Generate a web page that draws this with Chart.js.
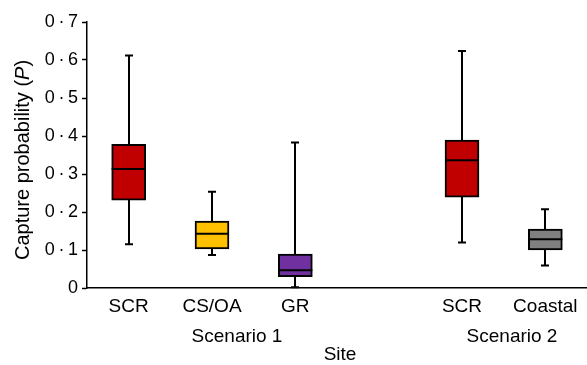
<!DOCTYPE html>
<html>
<head>
<meta charset="utf-8">
<script src="https://cdn.jsdelivr.net/npm/chart.js@4/dist/chart.umd.min.js"></script>
<style>
  html, body { margin: 0; padding: 0; background: #fff; }
  #wrap { width: 587px; height: 365px; }
</style>
</head>
<body>
<div id="wrap"><canvas id="boxChart" width="587" height="365"></canvas></div>
<script>
// site categories (slot 3 is the gap between the two scenarios)
const siteLabels = ['SCR', 'CS/OA', 'GR', '', 'SCR', 'Coastal'];
const whiskerLow = [0.115, 0.087, 0.002, null, 0.120, 0.059];
const boxLow = [0.231, 0.103, 0.030, null, 0.239, 0.100];
const medians = [0.313, 0.143, 0.047, null, 0.336, 0.128];
const boxHigh = [0.378, 0.176, 0.089, null, 0.389, 0.155];
const whiskerHigh = [0.612, 0.253, 0.383, null, 0.624, 0.207];
const boxColours = ['#c00000', '#ffc000', '#7030a0', '#ffffff', '#c00000', '#808080'];

const scenarioLabels = ['Scenario 1', 'Scenario 2'];
const scenarioCentres = [1.3, 4.6];

const FONT = '"Liberation Sans", Arial, sans-serif';

// whiskers go behind the boxes, medians on top
const boxPlotPlugin = {
    id: 'boxPlot',
    beforeDatasetsDraw(chart) {
        const ctx = chart.ctx;
        const x = chart.scales.x;
        const y = chart.scales.y;
        ctx.save();
        ctx.strokeStyle = '#000';
        ctx.lineWidth = 2;
        siteLabels.forEach((lab, i) => {
            if (whiskerLow[i] === null) return;
            const px = Math.round(x.getPixelForValue(i));
            const lo = y.getPixelForValue(whiskerLow[i]);
            const hi = y.getPixelForValue(whiskerHigh[i]);
            ctx.beginPath();
            ctx.moveTo(px, lo);
            ctx.lineTo(px, hi);
            ctx.moveTo(px - 4, hi);
            ctx.lineTo(px + 4, hi);
            ctx.moveTo(px - 4, lo);
            ctx.lineTo(px + 4, lo);
            ctx.stroke();
        });
        ctx.restore();
    },
    afterDatasetsDraw(chart) {
        const ctx = chart.ctx;
        const y = chart.scales.y;
        const meta = chart.getDatasetMeta(0);
        ctx.save();
        ctx.strokeStyle = '#000';
        ctx.lineWidth = 2;
        medians.forEach((m, i) => {
            if (m === null) return;
            const bar = meta.data[i];
            const half = bar.width / 2;
            const py = y.getPixelForValue(m);
            ctx.beginPath();
            ctx.moveTo(bar.x - half, py);
            ctx.lineTo(bar.x + half, py);
            ctx.stroke();
        });
        ctx.restore();
    },
    afterDraw(chart) {
        const ctx = chart.ctx;
        const x = chart.scales.x;
        const area = chart.chartArea;
        ctx.save();
        ctx.fillStyle = '#000';
        ctx.font = '19px ' + FONT;
        ctx.textAlign = 'center';
        ctx.textBaseline = 'middle';
        scenarioLabels.forEach((s, i) => {
            ctx.fillText(s, x.getPixelForValue(scenarioCentres[i]), 337);
        });
        ctx.fillText('Site', (area.left + area.right) / 2 + 3, 355);

        // y title with italic P
        const parts = [
            { t: 'Capture probability (', f: '20px ' + FONT },
            { t: 'P', f: 'italic 20px ' + FONT },
            { t: ')', f: '20px ' + FONT }
        ];
        let total = 0;
        parts.forEach(p => { ctx.font = p.f; p.w = ctx.measureText(p.t).width; total += p.w; });
        ctx.translate(23, 160);
        ctx.rotate(-Math.PI / 2);
        ctx.textAlign = 'left';
        let cx = -total / 2;
        parts.forEach(p => { ctx.font = p.f; ctx.fillText(p.t, cx, 0); cx += p.w; });
        ctx.restore();
    }
};

new Chart(document.getElementById('boxChart'), {
    type: 'bar',
    data: {
        labels: siteLabels,
        datasets: [{
            data: siteLabels.map((l, i) => boxLow[i] === null ? null : [boxLow[i], boxHigh[i]]),
            backgroundColor: boxColours,
            borderColor: '#000',
            borderWidth: 2,
            borderSkipped: false,
            barThickness: 34
        }]
    },
    options: {
        responsive: false,
        animation: false,
        layout: { padding: { top: 22, right: 0, left: 0, bottom: 0 } },
        plugins: {
            legend: { display: false },
            tooltip: { enabled: false }
        },
        scales: {
            x: {
                grid: { display: false, drawTicks: false },
                border: { color: '#000', width: 1.5 },
                ticks: { color: '#000', font: { family: FONT, size: 19 }, padding: 7, maxRotation: 0 },
                afterFit: s => { s.height = 77; }
            },
            y: {
                min: 0,
                max: 0.7,
                grid: { drawOnChartArea: false, tickLength: 5, color: '#000', tickWidth: 1.5 },
                border: { color: '#000', width: 1.5 },
                ticks: {
                    stepSize: 0.1,
                    color: '#000',
                    padding: 4,
                    font: { family: FONT, size: 18 },
                    callback: v => v === 0 ? '0' : v.toFixed(1).replace('.', '\u2009\u00b7\u2009')
                },
                afterFit: s => { s.width = 87; }
            }
        }
    },
    plugins: [boxPlotPlugin]
});
</script>
</body>
</html>
